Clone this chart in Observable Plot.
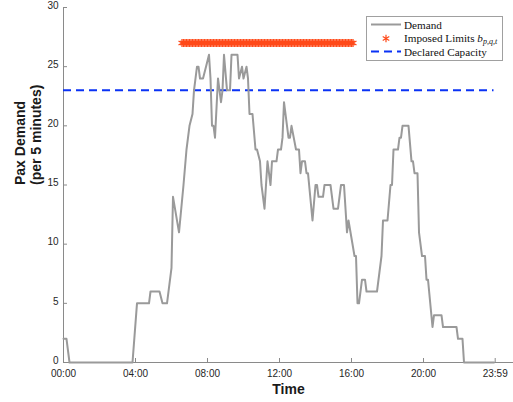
<!DOCTYPE html>
<html><head><meta charset="utf-8">
<script src="https://cdn.jsdelivr.net/npm/d3@7"></script>
<script src="https://cdn.jsdelivr.net/npm/@observablehq/plot@0.6"></script>
<style>
body{margin:0;background:#fff}
#wrap{position:relative;width:513px;height:402px;font-family:"Liberation Sans",Arial,sans-serif}
#legend{position:absolute;left:0;top:0;pointer-events:none}
</style>
</head><body><div id="wrap"></div>
<script>
// Demand: time of day (minutes after midnight) and pax per 5 minutes
const demandTimes = [0,10,20,230,245,285,290,320,330,345,360,365,385,400,410,420,430,435,445,450,455,465,475,485,490,495,500,505,515,525,530,535,545,555,560,580,585,595,600,610,615,620,630,640,645,655,660,670,680,690,695,710,715,725,730,735,745,750,755,760,775,785,790,795,805,810,815,830,840,845,850,865,870,890,900,915,925,935,945,950,970,975,980,985,995,1005,1010,1045,1060,1065,1080,1090,1095,1100,1115,1120,1125,1130,1150,1160,1165,1170,1180,1185,1195,1205,1210,1215,1230,1235,1260,1265,1310,1315,1330,1335,1435];
const demandValues = [2,2,0,0,5,5,6,6,5,5,8,14,11,15,18,20,21,23,25,25,24,24,25,26,24,20,20,19,24,22,23,26,23,23,26,26,24,25,24,25,24,21,21,18,18,17,15,13,17,15,17,17,18,18,19,22,20,19,19,20,18,18,16,17,17,16,16,12,15,15,14,14,15,15,13,13,15,15,11,12,9,9,5,5,7,7,6,6,9,12,12,15,15,18,18,19,19,20,20,17,17,16,16,11,9,9,7,7,3,4,4,3,3,2,2,0,0];

// Imposed limits: constant value over a time window, one marker per 5-minute slot
const limitStart = 395, limitEnd = 965, limitStep = 5, limitValue = 27;
const limitTimes = d3.range(limitStart, limitEnd + 1, limitStep);

// Declared capacity
const capacityValue = 23, capacityStart = 0, capacityEnd = 1435;

const xTicks = [0, 240, 480, 720, 960, 1200, 1439];
const yTicks = [0, 5, 10, 15, 20, 25, 30];
const legendLabels = ["Demand", "Imposed Limits ", "Declared Capacity"];

const demandColor = "#9a9a9a", limitColor = "#ff4a1a", capColor = "#0a32f5", axisColor = "#8a8a8a", textColor = "#262626";

const demand = demandTimes.map((t, i) => ({t, v: demandValues[i]}));
const limits = limitTimes.map(t => ({t, v: limitValue}));
const fmt = d => String(Math.floor(d / 60)).padStart(2, "0") + ":" + String(d % 60).padStart(2, "0");

const chart = Plot.plot({
  width: 513, height: 402,
  marginLeft: 63, marginRight: 0, marginTop: 7, marginBottom: 40,
  style: {fontFamily: '"Liberation Sans", Arial, sans-serif', fontSize: "10px", color: textColor, background: "#fff"},
  x: {domain: [0, 1500]},
  y: {domain: [0, 30]},
  marks: [
    Plot.ruleX([0], {stroke: axisColor}),
    Plot.ruleY([0], {stroke: axisColor}),
    Plot.axisX({ticks: xTicks, tickSize: -4, fill: "none", stroke: axisColor, label: null}),
    Plot.axisX({ticks: xTicks, tickSize: 0, tickPadding: 7, tickFormat: fmt, fill: textColor, label: null}),
    Plot.axisY({ticks: yTicks, tickSize: -4, fill: "none", stroke: axisColor, label: null}),
    Plot.axisY({ticks: yTicks, tickSize: 0, tickPadding: 5, dy: -2, fill: textColor, label: null}),
    Plot.ruleY([capacityValue], {x1: capacityStart, x2: capacityEnd, stroke: capColor, strokeWidth: 2, strokeDasharray: "8,5"}),
    Plot.line(demand, {x: "t", y: "v", stroke: demandColor, strokeWidth: 2}),
    Plot.dot(limits, {x: "t", y: "v", symbol: "asterisk", r: 3.8, stroke: limitColor, strokeWidth: 1.3}),
    Plot.text(["Time"], {frameAnchor: "bottom", lineAnchor: "middle", dy: 27, fontSize: 14, fontWeight: "bold", fill: "#1a1a1a"}),
    Plot.text(["Pax Demand\n(per 5 minutes)"], {frameAnchor: "left", dx: -36, rotate: -90, fontSize: 14, fontWeight: "bold", fill: "#1a1a1a", lineHeight: 1.15})
  ]
});
const wrap = document.getElementById("wrap");
wrap.appendChild(chart);

// Legend overlay
const svg = d3.select(wrap).append("svg").attr("id", "legend").attr("width", 513).attr("height", 402);
svg.append("rect").attr("x", 366.5).attr("y", 16.5).attr("width", 136).attr("height", 44)
  .attr("fill", "#fff").attr("stroke", "#a0a0a0").attr("stroke-width", 1);
svg.append("line").attr("x1", 371).attr("x2", 401).attr("y1", 24.5).attr("y2", 24.5)
  .attr("stroke", demandColor).attr("stroke-width", 2);
svg.append("path").attr("d", d3.symbol(d3.symbolAsterisk, 40)()).attr("transform", "translate(386,38.5)")
  .attr("fill", "none").attr("stroke", limitColor).attr("stroke-width", 1.2);
svg.append("line").attr("x1", 371).attr("x2", 401).attr("y1", 51.5).attr("y2", 51.5)
  .attr("stroke", capColor).attr("stroke-width", 2).attr("stroke-dasharray", "8,5");
const tx = svg.append("g").attr("font-family", '"Liberation Serif", "Times New Roman", serif').attr("font-size", 11.2).attr("fill", "#111");
tx.append("text").attr("x", 404).attr("y", 28.5).text(legendLabels[0]);
const t2 = tx.append("text").attr("x", 404).attr("y", 42);
t2.append("tspan").text(legendLabels[1]);
t2.append("tspan").attr("font-style", "italic").text("b");
t2.append("tspan").attr("font-style", "italic").attr("font-size", 8).attr("dy", 2).text("p,q,t");
tx.append("text").attr("x", 404).attr("y", 55.5).text(legendLabels[2]);
</script>
</body></html>
